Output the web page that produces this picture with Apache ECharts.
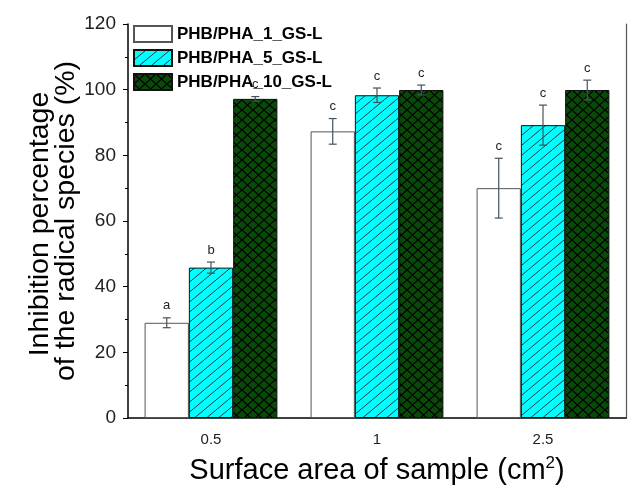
<!DOCTYPE html>
<html>
<head>
<meta charset="utf-8">
<script src="https://cdn.jsdelivr.net/npm/echarts@6/dist/echarts.min.js"></script>
<style>
  html, body { margin: 0; padding: 0; background: #fff; }
  #chart { width: 628px; height: 488px; }
</style>
</head>
<body>
<div id="chart"></div>
<script>
const categories = ['0.5', '1', '2.5']
const seriesNames = ['PHB/PHA_1_GS-L', 'PHB/PHA_5_GS-L', 'PHB/PHA_10_GS-L']

const pha1 = [29.0, 87.3, 70.0]
const pha1Err = [1.5, 3.9, 9.1]
const pha1Letters = ['a', 'c', 'c']

const pha5 = [45.8, 98.3, 89.2]
const pha5Err = [1.7, 2.2, 6.1]
const pha5Letters = ['b', 'c', 'c']

const pha10 = [97.2, 99.9, 99.9]
const pha10Err = [0.7, 1.5, 3.0]
const pha10Letters = ['c', 'c', 'c']

const yTicks = [0, 20, 40, 60, 80, 100, 120]

// hatch patterns
function hatchPattern() {
  const c = document.createElement('canvas')
  c.width = 12; c.height = 10
  const ctx = c.getContext('2d')
  ctx.fillStyle = '#00ffff'
  ctx.fillRect(0, 0, 12, 10)
  ctx.strokeStyle = '#1a3c3c'
  ctx.lineWidth = 1
  ctx.beginPath()
  ctx.moveTo(-1.2, 11); ctx.lineTo(13.2, -1)
  ctx.stroke()
  return c
}
function crossPattern() {
  const c = document.createElement('canvas')
  c.width = 11; c.height = 10
  const ctx = c.getContext('2d')
  ctx.fillStyle = '#0a4a08'
  ctx.fillRect(0, 0, 11, 10)
  ctx.strokeStyle = '#000'
  ctx.lineWidth = 1.2
  ctx.beginPath()
  ctx.moveTo(0, 0); ctx.lineTo(11, 10)
  ctx.moveTo(11, 0); ctx.lineTo(0, 10)
  ctx.stroke()
  return c
}

const fills = [
  '#ffffff',
  { image: hatchPattern(), repeat: 'repeat' },
  { image: crossPattern(), repeat: 'repeat' }
]
const borders = ['#555', '#111', '#111']

function errSeries(idx, vals, errs, letters) {
  return {
    type: 'custom',
    z: 10,
    silent: true,
    renderItem: function (params, api) {
      const i = api.value(0)
      const v = api.value(1)
      const e = api.value(2)
      const bandW = api.size([1, 0])[0]
      const bw = bandW * 0.8 / 3
      const x = api.coord([i, v])[0] + (idx - 1) * bw
      const hi = api.coord([i, v + e])[1]
      const lo = api.coord([i, v - e])[1]
      const st = { stroke: '#45525c', lineWidth: 1.2 }
      return {
        type: 'group',
        children: [
          { type: 'line', shape: { x1: x, y1: hi, x2: x, y2: lo }, style: st },
          { type: 'line', shape: { x1: x - 4, y1: hi, x2: x + 4, y2: hi }, style: st },
          { type: 'line', shape: { x1: x - 4, y1: lo, x2: x + 4, y2: lo }, style: st },
          {
            type: 'text',
            x: x, y: hi - 12,
            style: {
              text: letters[params.dataIndex],
              fill: '#222',
              font: '13px "Liberation Sans", Arial, sans-serif',
              textAlign: 'center',
              textVerticalAlign: 'middle'
            }
          }
        ]
      }
    },
    data: vals.map((v, i) => [i, v, errs[i]])
  }
}

function barSeries(idx, vals) {
  return {
    name: seriesNames[idx],
    type: 'bar',
    data: vals,
    barGap: '0%',
    barCategoryGap: '20%',
    itemStyle: { color: fills[idx], borderColor: borders[idx], borderWidth: 1 },
    animation: false
  }
}

const chart = echarts.init(document.getElementById('chart'))
const font = '"Liberation Sans", Arial, sans-serif'

chart.setOption({
  animation: false,
  grid: { left: 128, right: 2, top: 24, bottom: 70, outerBoundsMode: 'none', containLabel: false },
  legend: {
    data: seriesNames,
    orient: 'vertical',
    left: 133,
    top: 25,
    padding: 0,
    itemWidth: 38,
    itemHeight: 16,
    itemGap: 6,
    icon: 'rect',
    textStyle: { fontFamily: font, fontSize: 17, fontWeight: 'bold', color: '#000' }
  },
  xAxis: [
    {
      type: 'category',
      data: categories,
      axisLine: { lineStyle: { color: '#000', width: 1.5 } },
      axisTick: { alignWithLabel: true, length: 5, lineStyle: { color: '#000' } },
      axisLabel: { fontFamily: font, fontSize: 15, color: '#222', margin: 14 },
      name: 'Surface area of sample (cm{sup|2})',
      nameLocation: 'middle',
      nameGap: 37,
      nameTextStyle: {
        fontFamily: font, fontSize: 29, color: '#000',
        rich: { sup: { fontFamily: font, fontSize: 17, verticalAlign: 'top', padding: [0, 0, 14, 0] } }
      }
    },
    {
      type: 'category',
      data: categories,
      position: 'bottom',
      axisLine: { show: false },
      axisTick: { length: 3, lineStyle: { color: '#000' } },
      axisLabel: { show: false }
    }
  ],
  yAxis: [
    {
      type: 'value',
      min: yTicks[0],
      max: yTicks[yTicks.length - 1],
      interval: 20,
      axisLine: { show: true, lineStyle: { color: '#000', width: 1.5 } },
      axisTick: { show: true, length: 5, lineStyle: { color: '#000' } },
      minorTick: { show: true, splitNumber: 2, length: 3, lineStyle: { color: '#000' } },
      splitLine: { show: false },
      axisLabel: { fontFamily: font, fontSize: 19, color: '#222', margin: 12 }
    },
    {
      type: 'value',
      position: 'right',
      min: 0, max: 120,
      axisLine: { show: true, lineStyle: { color: '#555', width: 1.2 } },
      axisTick: { show: false },
      axisLabel: { show: false },
      splitLine: { show: false }
    }
  ],
  graphic: [
    {
      type: 'text', x: 40, y: 224, rotation: Math.PI / 2,
      style: { text: 'Inhibition percentage', font: '28.5px ' + font, fill: '#000', textAlign: 'center', textVerticalAlign: 'middle' }
    },
    {
      type: 'text', x: 66, y: 221, rotation: Math.PI / 2,
      style: { text: 'of the radical species (%)', font: '28.5px ' + font, fill: '#000', textAlign: 'center', textVerticalAlign: 'middle' }
    }
  ],
  series: [
    barSeries(0, pha1),
    barSeries(1, pha5),
    barSeries(2, pha10),
    errSeries(0, pha1, pha1Err, pha1Letters),
    errSeries(1, pha5, pha5Err, pha5Letters),
    errSeries(2, pha10, pha10Err, pha10Letters)
  ]
})
</script>
</body>
</html>
